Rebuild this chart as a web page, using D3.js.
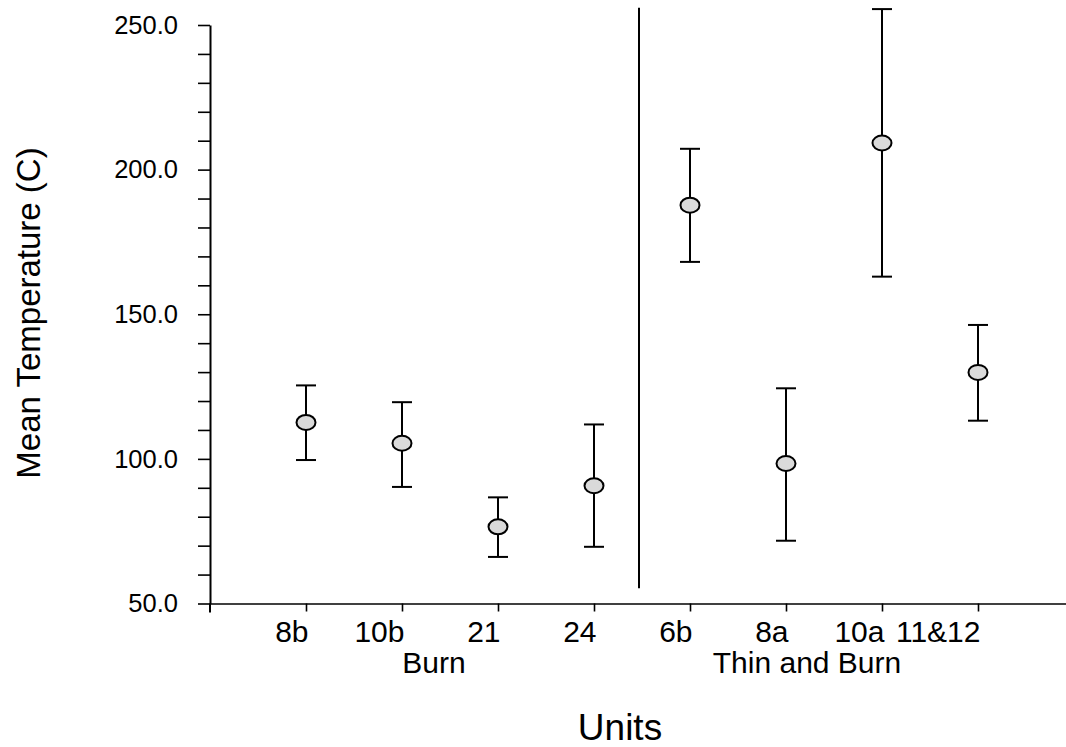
<!DOCTYPE html>
<html>
<head>
<meta charset="utf-8">
<script src="https://cdn.jsdelivr.net/npm/d3@7"></script>
<style>
  body { margin: 0; background: #fff; }
  svg { display: block; font-family: "Liberation Sans", Arial, sans-serif; }
</style>
</head>
<body>
<svg width="1066" height="747"></svg>
<script>
// values
var units = ['8b', '10b', '21', '24', '6b', '8a', '10a', '11&12']
var groups = ['Burn', 'Thin and Burn']
var unitGroup = [0, 0, 0, 0, 1, 1, 1, 1]
var means = [112.6, 105.4, 76.5, 90.7, 187.7, 98.4, 209.2, 129.9]
var upper = [125.4, 119.6, 86.7, 111.9, 207.2, 124.4, 255.5, 146.3]
var lower = [99.6, 90.3, 66.1, 69.6, 168.1, 71.7, 163.0, 113.2]
var yTicks = d3.range(50, 251, 10)
var yLabels = [50, 100, 150, 200, 250]

var svg = d3.select('svg')

var x = d3.scaleLinear().domain([0, 9]).range([210, 1074])
var y = d3.scaleLinear().domain([50, 250]).range([603.5, 25])

// y axis
var yAxis = d3.axisLeft(y)
    .tickValues(yTicks)
    .tickSize(12)
    .tickSizeOuter(0)
    .tickFormat(d => yLabels.indexOf(d) >= 0 ? d3.format('.1f')(d) : '')

var gy = svg.append('g')
    .attr('transform', 'translate(' + x(0) + ',0)')
    .call(yAxis)
gy.attr('font-size', null).attr('font-family', null)
gy.select('.domain').attr('stroke-width', 2)
gy.selectAll('.tick line').attr('stroke-width', 1.6)
gy.selectAll('.tick text')
    .attr('x', -32)
    .style('font-size', '25.5px')
    .attr('fill', '#000')

// little stub of the y axis below the baseline
svg.append('line')
    .attr('x1', x(0)).attr('x2', x(0))
    .attr('y1', y(50)).attr('y2', y(50) + 9)
    .attr('stroke', '#000').attr('stroke-width', 2)

// x axis
var xAxis = d3.axisBottom(x)
    .tickValues(units.map((d, i) => i + 1))
    .tickSize(8)
    .tickSizeOuter(0)
    .tickFormat((d) => units[d - 1])

var gx = svg.append('g')
    .attr('transform', 'translate(0,' + y(50) + ')')
    .call(xAxis)
gx.attr('font-size', null).attr('font-family', null)
gx.select('.domain').attr('stroke-width', 1.6)
gx.selectAll('.tick line').attr('stroke-width', 1.6)
gx.selectAll('.tick text')
    .attr('text-anchor', 'end')
    .attr('x', 2)
    .attr('y', 38)
    .attr('dy', null)
    .style('font-size', '30px')
    .attr('fill', '#000')

// group labels
var groupOffset = [-16, -27]
groups.forEach(function(g, gi) {
    var idx = units.map((u, i) => i).filter(i => unitGroup[i] === gi)
    var cx = d3.mean(idx, i => x(i + 1)) + groupOffset[gi]
    svg.append('text')
        .attr('x', cx)
        .attr('y', y(50) + 69)
        .attr('text-anchor', 'middle')
        .style('font-size', '30px')
        .text(g)
})

// divider between the two groups
svg.append('line')
    .attr('x1', x(4.5) - 3).attr('x2', x(4.5) - 3)
    .attr('y1', y(256)).attr('y2', y(55.3))
    .attr('stroke', '#000').attr('stroke-width', 2)

// axis titles
svg.append('text')
    .attr('x', 620)
    .attr('y', 740)
    .attr('text-anchor', 'middle')
    .style('font-size', '37px')
    .text('Units')

svg.append('text')
    .attr('transform', 'translate(40,313) rotate(-90)')
    .attr('text-anchor', 'middle')
    .style('font-size', '33px')
    .text('Mean Temperature (C)')

// error bars
var capW = 10
var bars = svg.append('g')
units.forEach(function(u, i) {
    var cx = x(i + 1)
    bars.append('line')
        .attr('x1', cx).attr('x2', cx)
        .attr('y1', y(upper[i])).attr('y2', y(lower[i]))
        .attr('stroke', '#000').attr('stroke-width', 2)
    bars.append('line')
        .attr('x1', cx - capW).attr('x2', cx + capW)
        .attr('y1', y(upper[i])).attr('y2', y(upper[i]))
        .attr('stroke', '#000').attr('stroke-width', 2)
    bars.append('line')
        .attr('x1', cx - capW).attr('x2', cx + capW)
        .attr('y1', y(lower[i])).attr('y2', y(lower[i]))
        .attr('stroke', '#000').attr('stroke-width', 2)
})

// mean markers
svg.append('g')
    .selectAll('ellipse')
    .data(means)
    .enter().append('ellipse')
    .attr('cx', (d, i) => x(i + 1))
    .attr('cy', d => y(d))
    .attr('rx', 9.5)
    .attr('ry', 7.5)
    .attr('fill', '#dadada')
    .attr('stroke', '#000')
    .attr('stroke-width', 2)
</script>
</body>
</html>
